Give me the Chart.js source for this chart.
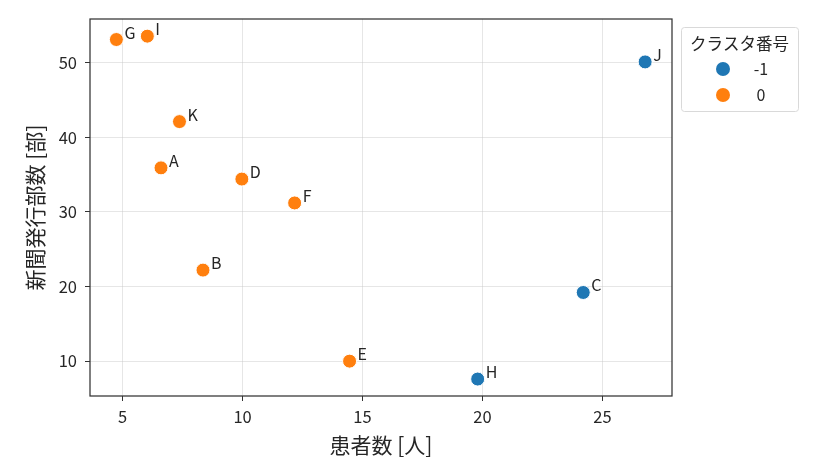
<!DOCTYPE html>
<html>
<head>
<meta charset="utf-8">
<script src="https://cdn.jsdelivr.net/npm/chart.js@4.4.1/dist/chart.umd.min.js"></script>
<style>
  html, body { margin: 0; padding: 0; background: #fff; }
  #wrap { width: 814px; height: 470px; }
</style>
</head>
<body>
<div id="wrap"><canvas id="chart" width="814" height="470"></canvas></div>
<script>
// 地域ごとの値
const names    = ['A', 'B', 'C', 'D', 'E', 'F', 'G', 'H', 'I', 'J', 'K'];
const patients = [6.6, 8.35, 24.2, 9.97, 14.46, 12.17, 4.74, 19.8, 6.03, 26.78, 7.37];
const papers   = [35.9, 22.2, 19.2, 34.4, 10.0, 31.2, 53.1, 7.6, 53.55, 50.1, 42.1];
const clusters = [0, 0, -1, 0, 0, 0, 0, -1, 0, -1, 0];

const clusterIds = [-1, 0];
const clusterColors = ['#1f77b4', '#ff7f0e'];

const xTicks = [5, 10, 15, 20, 25];
const yTicks = [10, 20, 30, 40, 50];

const jpFont = '"Noto Sans CJK JP", "Noto Sans", sans-serif';
const textColor = '#262626';

const datasets = clusterIds.map((id, k) => {
  const pts = [];
  names.forEach((n, i) => {
    if (clusters[i] === id) pts.push({ x: patients[i], y: papers[i], name: n });
  });
  return {
    label: String(id),
    data: pts,
    backgroundColor: clusterColors[k],
    borderColor: '#ffffff',
    borderWidth: 1,
    pointRadius: 7,
    pointHoverRadius: 7
  };
});

// 軸枠・点ラベル・凡例
const extras = {
  id: 'extras',
  beforeDatasetsDraw(chart) {
    const { ctx, chartArea: a } = chart;
    ctx.save();
    ctx.strokeStyle = '#333333';
    ctx.lineWidth = 1.25;
    ctx.strokeRect(a.left, a.top, a.right - a.left, a.bottom - a.top);
    ctx.restore();
  },
  afterDatasetsDraw(chart) {
    const { ctx, chartArea: a } = chart;
    ctx.save();
    ctx.fillStyle = textColor;
    ctx.font = '16px ' + jpFont;
    ctx.textAlign = 'left';
    ctx.textBaseline = 'alphabetic';
    chart.data.datasets.forEach((ds, di) => {
      chart.getDatasetMeta(di).data.forEach((el, j) => {
        ctx.fillText(ds.data[j].name, el.x + 8, el.y - 1);
      });
    });

    // legend
    const bx = a.right + 9, by = a.top + 8, bw = 117, bh = 84;
    ctx.beginPath();
    ctx.roundRect(bx + 0.5, by + 0.5, bw, bh, 3);
    ctx.fillStyle = 'rgba(255,255,255,0.8)';
    ctx.fill();
    ctx.strokeStyle = '#d9d9d9';
    ctx.lineWidth = 1;
    ctx.stroke();

    ctx.fillStyle = textColor;
    ctx.font = '16.5px ' + jpFont;
    ctx.textAlign = 'center';
    ctx.textBaseline = 'middle';
    ctx.fillText('クラスタ番号', bx + bw / 2, by + 17);

    chart.data.datasets.forEach((ds, k) => {
      const cy = by + 42 + k * 26;
      ctx.beginPath();
      ctx.arc(bx + 42, cy, 7, 0, Math.PI * 2);
      ctx.fillStyle = ds.backgroundColor;
      ctx.fill();
      ctx.fillStyle = textColor;
      ctx.font = '16px ' + jpFont;
      ctx.textAlign = 'center';
      ctx.fillText(ds.label, bx + 80, cy);
    });
    ctx.restore();
  }
};

const gridColor = 'rgba(200,200,200,0.45)';

new Chart(document.getElementById('chart'), {
  type: 'scatter',
  data: { datasets },
  options: {
    responsive: false,
    animation: false,
    events: [],
    layout: { padding: { top: 19, right: 142, bottom: 0, left: 0 } },
    plugins: {
      legend: { display: false },
      tooltip: { enabled: false }
    },
    scales: {
      x: {
        type: 'linear',
        min: 3.64,
        max: 27.9,
        afterBuildTicks: s => { s.ticks = xTicks.map(v => ({ value: v })); },
        afterFit: s => { s.height = 74; },
        grid: { color: gridColor, tickColor: '#333333', tickLength: 5, lineWidth: 1 },
        border: { display: false },
        ticks: { color: textColor, font: { family: jpFont, size: 16.5 }, padding: 6 },
        title: {
          display: true,
          text: '患者数 [人]',
          color: textColor,
          font: { family: jpFont, size: 21 },
          padding: { top: 0, bottom: 12 }
        }
      },
      y: {
        type: 'linear',
        min: 5.33,
        max: 55.85,
        afterBuildTicks: s => { s.ticks = yTicks.map(v => ({ value: v })); },
        afterFit: s => { s.width = 90; },
        grid: { color: gridColor, tickColor: '#333333', tickLength: 5, lineWidth: 1 },
        border: { display: false },
        ticks: { color: textColor, font: { family: jpFont, size: 16.5 }, padding: 8 },
        title: {
          display: true,
          text: '新聞発行部数 [部]',
          color: textColor,
          font: { family: jpFont, size: 21 },
          padding: { top: 22, bottom: 0 }
        }
      }
    }
  },
  plugins: [extras]
});
</script>
</body>
</html>
